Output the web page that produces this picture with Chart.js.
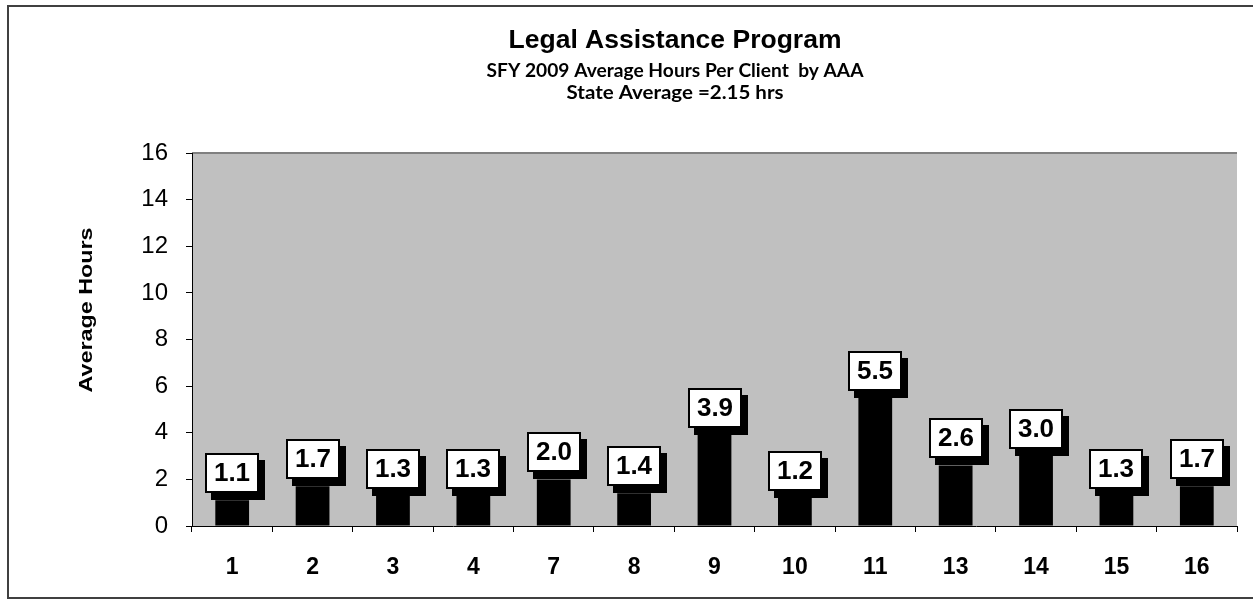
<!DOCTYPE html>
<html>
<head>
<meta charset="utf-8">
<script src="https://cdn.jsdelivr.net/npm/chart.js@4.4.1/dist/chart.umd.min.js"></script>
<style>
  html, body { margin: 0; padding: 0; background: #fff; }
  #wrap { width: 1253px; height: 603px; }
</style>
</head>
<body>
<div id="wrap"><canvas id="chart" width="1253" height="603"></canvas></div>
<script>
// AAA regions and their SFY 2009 average hours per client
const regions = ['1', '2', '3', '4', '7', '8', '9', '10', '11', '13', '14', '15', '16'];
const avgHours = [1.1, 1.7, 1.3, 1.3, 2.0, 1.4, 3.9, 1.2, 5.5, 2.6, 3.0, 1.3, 1.7];
const yTicks = [0, 2, 4, 6, 8, 10, 12, 14, 16];

const titleText = 'Legal Assistance Program';
const subtitleText = 'SFY 2009 Average Hours Per Client  by AAA';
const stateAvgText = 'State Average =2.15 hrs';
const yTitleText = 'Average Hours';

const ARIAL = '"Liberation Sans", Arial, sans-serif';

// draws a line of text stretched to a given width
function fitText(ctx, text, font, cx, cy, targetW) {
  ctx.save();
  ctx.font = font;
  const w = ctx.measureText(text).width;
  ctx.translate(cx, cy);
  ctx.scale(targetW / w, 1);
  ctx.textAlign = 'center';
  ctx.textBaseline = 'middle';
  ctx.fillStyle = '#000';
  ctx.fillText(text, 0, 0);
  ctx.restore();
}

const backdrop = {
  id: 'backdrop',
  beforeDraw(chart) {
    const { ctx, chartArea: a } = chart;
    ctx.save();
    ctx.fillStyle = '#fff';
    ctx.fillRect(0, 0, chart.width, chart.height);
    // outer frame
    ctx.strokeStyle = '#404040';
    ctx.lineWidth = 2;
    ctx.strokeRect(8, 6, chart.width + 10, 592);
    // plot area
    ctx.fillStyle = '#c0c0c0';
    ctx.fillRect(a.left, a.top, a.right - a.left, a.bottom - a.top);
    ctx.strokeStyle = '#808080';
    ctx.lineWidth = 2;
    ctx.beginPath();
    ctx.moveTo(a.left, a.top);
    ctx.lineTo(a.right, a.top);
    ctx.stroke();
    ctx.restore();
  },
  afterDraw(chart) {
    const ctx = chart.ctx;
    fitText(ctx, titleText, 'bold 25px ' + ARIAL, 675, 41, 333);
    fitText(ctx, subtitleText, 'bold 18px Lato, "Open Sans", sans-serif', 675, 71, 377);
    fitText(ctx, stateAvgText, 'bold 18px Lato, "Open Sans", sans-serif', 675, 93, 217);
    // y axis title
    ctx.save();
    ctx.translate(87, 310);
    ctx.rotate(-Math.PI / 2);
    ctx.font = 'bold 19px ' + ARIAL;
    const w = ctx.measureText(yTitleText).width;
    ctx.scale(165 / w, 1);
    ctx.textAlign = 'center';
    ctx.textBaseline = 'middle';
    ctx.fillStyle = '#000';
    ctx.fillText(yTitleText, 0, 0);
    ctx.restore();
  }
};

// white value boxes with a black drop shadow above each bar
const valueBoxes = {
  id: 'valueBoxes',
  afterDatasetsDraw(chart) {
    const ctx = chart.ctx;
    const meta = chart.getDatasetMeta(0);
    const bw = 54, bh = 40, sx = 6, sy = 7;
    ctx.save();
    meta.data.forEach((bar, i) => {
      const left = Math.round(bar.x - bw / 2);
      const top = Math.round(bar.y - sy - bh);
      ctx.fillStyle = '#000';
      ctx.fillRect(left + sx, top + sy, bw, bh);
      ctx.fillStyle = '#fff';
      ctx.fillRect(left, top, bw, bh);
      ctx.strokeStyle = '#000';
      ctx.lineWidth = 2;
      ctx.strokeRect(left + 1, top + 1, bw - 2, bh - 2);
      ctx.font = 'bold 26px ' + ARIAL;
      ctx.fillStyle = '#000';
      ctx.textAlign = 'center';
      ctx.textBaseline = 'middle';
      ctx.fillText(avgHours[i].toFixed(1), left + bw / 2, top + bh / 2 + 1);
    });
    ctx.restore();
  }
};

new Chart(document.getElementById('chart'), {
  type: 'bar',
  data: {
    labels: regions,
    datasets: [{
      data: avgHours,
      backgroundColor: '#000',
      borderWidth: 0,
      barPercentage: 0.42,
      categoryPercentage: 1
    }]
  },
  options: {
    responsive: false,
    animation: false,
    layout: { padding: { left: 0, right: 16, top: 153, bottom: 0 } },
    plugins: {
      legend: { display: false },
      tooltip: { enabled: false }
    },
    scales: {
      y: {
        min: 0,
        max: 16,
        afterBuildTicks: (scale) => { scale.ticks = yTicks.map(v => ({ value: v })); },
        afterFit: (scale) => { scale.width = 192; },
        ticks: {
          color: '#000',
          font: { family: ARIAL, size: 24 },
          padding: 18
        },
        grid: { drawOnChartArea: false, color: '#000', tickLength: 6 },
        border: { color: '#000', width: 1 }
      },
      x: {
        afterFit: (scale) => { scale.height = 77; },
        ticks: {
          color: '#000',
          font: { family: ARIAL, size: 23, weight: 'bold' },
          padding: 22
        },
        grid: { drawOnChartArea: false, color: '#000', tickLength: 6, offset: true },
        border: { color: '#000', width: 1 }
      }
    }
  },
  plugins: [backdrop, valueBoxes]
});
</script>
</body>
</html>
